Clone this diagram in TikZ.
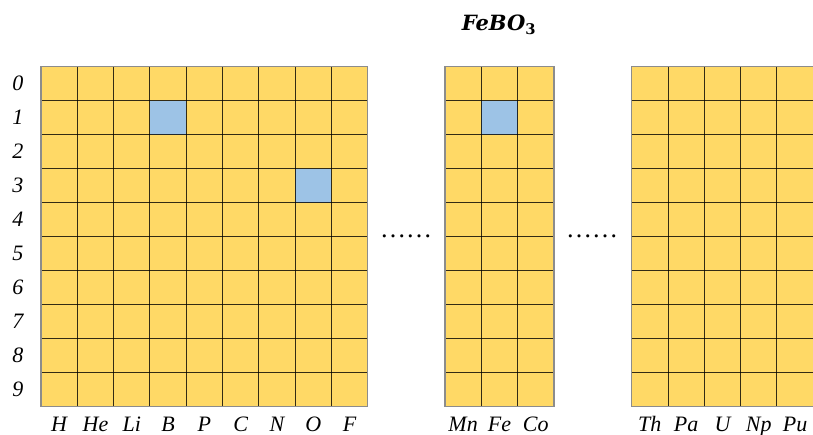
\documentclass[tikz,border=0pt]{standalone}
\usepackage{fontspec}
\setmainfont{Liberation Serif}
\newfontfamily\titlefont{DejaVu Serif}
\definecolor{cellyellow}{HTML}{FFD966}
\definecolor{cellblue}{HTML}{9DC3E6}
\definecolor{rimgray}{HTML}{8C8C8C}
\tikzset{
  gridline/.style={draw=black, draw opacity=0.8, line width=1pt},
  rimline/.style={draw=rimgray, line width=1.2pt},
  rowlabel/.style={font=\fontsize{22}{22}\selectfont\itshape, anchor=center},
  collabel/.style={font=\fontsize{22}{22}\selectfont\itshape, anchor=base},
  dotsrow/.style={font=\fontsize{26}{26}\selectfont, anchor=base},
}
\begin{document}
\begin{tikzpicture}[x=1pt,y=-1pt]
\useasboundingbox (0,0) rectangle (813,435);
\def\cw{36.3}
\def\ch{34}
\def\top{66.7}
% --- left block: 9 columns ---
\def\xa{41}
\fill[cellyellow] (\xa,\top) rectangle ++(9*\cw,10*\ch);
\fill[cellblue] (\xa+3*\cw,\top+1*\ch) rectangle ++(\cw,\ch);
\fill[cellblue] (\xa+7*\cw,\top+3*\ch) rectangle ++(\cw,\ch);
\foreach \i in {1,...,8} \draw[gridline] (\xa+\i*\cw,\top) -- ++(0,10*\ch);
\foreach \j in {1,...,9} \draw[gridline] (\xa,\top+\j*\ch) -- ++(9*\cw,0);
\draw[rimline] (\xa,\top) rectangle ++(9*\cw,10*\ch);
% --- middle block: 3 columns ---
\def\xb{445}
\fill[cellyellow] (\xb,\top) rectangle ++(3*\cw,10*\ch);
\fill[cellblue] (\xb+1*\cw,\top+1*\ch) rectangle ++(\cw,\ch);
\foreach \i in {1,2} \draw[gridline] (\xb+\i*\cw,\top) -- ++(0,10*\ch);
\foreach \j in {1,...,9} \draw[gridline] (\xb,\top+\j*\ch) -- ++(3*\cw,0);
\draw[rimline] (\xb,\top) rectangle ++(3*\cw,10*\ch);
% --- right block: 5 columns ---
\def\xc{631.7}
\fill[cellyellow] (\xc,\top) rectangle ++(5*\cw,10*\ch);
\foreach \i in {1,...,4} \draw[gridline] (\xc+\i*\cw,\top) -- ++(0,10*\ch);
\foreach \j in {1,...,9} \draw[gridline] (\xc,\top+\j*\ch) -- ++(5*\cw,0);
\draw[rimline] (\xc,\top) rectangle ++(5*\cw,10*\ch);
% --- row indices ---
\foreach \r in {0,...,9}
  \node[rowlabel] (row\r) at (18,\top+\r*\ch+0.5*\ch) {\r};
% --- element names under the columns ---
\foreach \e [count=\k from 0] in {H,He,Li,B,P,C,N,O,F}
  \node[collabel] (elA\k) at (\xa+\k*\cw+0.5*\cw,431.5) {\e};
\foreach \e [count=\k from 0] in {Mn,Fe,Co}
  \node[collabel] (elB\k) at (\xb+\k*\cw+0.5*\cw,431.5) {\e};
\foreach \e [count=\k from 0] in {Th,Pa,U,Np,Pu}
  \node[collabel] (elC\k) at (\xc+\k*\cw+0.5*\cw,431.5) {\e};
% --- gaps between blocks ---
\node[dotsrow] (gapA) at (406,237.5) {……};
\node[dotsrow] (gapB) at (592,237.5) {……};
% --- formula ---
\node[font=\titlefont\fontsize{21}{21}\selectfont\bfseries\itshape, anchor=base] (formula) at (499,31) {FeBO\textsubscript{\upshape 3}};
\end{tikzpicture}
\end{document}
